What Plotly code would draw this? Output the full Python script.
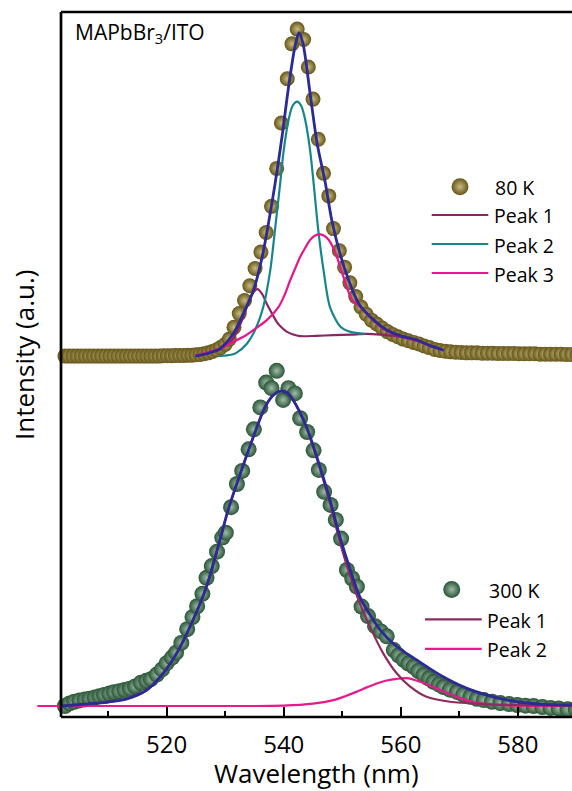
import plotly.graph_objects as go

# ---------------- data ----------------
# 80 K measured spectrum (normalised intensity, plotted with a vertical offset)
wl_80K = [502.6, 503.3, 504.0, 504.7, 505.4, 506.1, 506.8, 507.5, 508.2, 508.9,
          509.6, 510.3, 511.0, 511.7, 512.4, 513.1, 513.8, 514.5, 515.2, 515.9,
          516.6, 517.3, 518.0, 518.7, 519.4, 520.1, 520.8, 521.5, 522.2, 522.9,
          523.6, 524.3, 525.0, 525.7, 526.4, 527.1, 527.8, 528.5, 529.2,
          530.0, 530.7, 531.5, 532.4, 533.3, 534.2, 535.1, 536.1, 537.0, 537.9,
          538.8, 539.6, 540.6, 541.4, 542.3, 543.4, 544.2, 545.0, 545.9, 546.8,
          547.7, 548.5, 549.5, 550.4, 551.3, 552.3, 553.2, 554.1, 555.0, 555.9,
          556.8, 557.7, 558.6, 559.5, 560.4, 561.3, 562.2, 563.1, 564.0, 564.9,
          565.8, 566.7, 567.6, 568.5, 569.4, 570.3, 571.2, 572.1, 573.0, 573.9,
          574.8, 575.7, 576.6, 577.5, 578.4, 579.3, 580.2, 581.1, 582.0, 582.9,
          583.8, 584.7, 585.6, 586.5, 587.4, 588.3, 589.2, 590.1]
int_80K = [0.000, 0.000, 0.000, 0.000, 0.000, 0.000, 0.000, 0.000, 0.000, 0.000,
           0.000, 0.000, 0.000, 0.000, 0.000, 0.000, 0.000, 0.000, 0.000, 0.000,
           0.000, 0.000, 0.000, 0.000, 0.001, 0.001, 0.001, 0.002, 0.002, 0.002,
           0.003, 0.003, 0.004, 0.005, 0.007, 0.010, 0.014, 0.019, 0.026,
           0.036, 0.052, 0.088, 0.130, 0.170, 0.215, 0.268, 0.318, 0.378, 0.458,
           0.574, 0.713, 0.848, 0.955, 1.000, 0.968, 0.884, 0.786, 0.663, 0.559,
           0.490, 0.390, 0.322, 0.272, 0.224, 0.182, 0.150, 0.128, 0.110, 0.098,
           0.086, 0.075, 0.066, 0.059, 0.052, 0.047, 0.042, 0.037, 0.031, 0.026,
           0.020, 0.017, 0.015, 0.013, 0.012, 0.011, 0.010, 0.010, 0.010, 0.009,
           0.009, 0.009, 0.008, 0.008, 0.008, 0.008, 0.007, 0.007, 0.007, 0.007,
           0.006, 0.006, 0.006, 0.006, 0.006, 0.005, 0.005, 0.005]

# 80 K fit components
fit80_wl = [524.9, 527.0, 529.1, 531.4, 533.1, 534.8, 536.3, 537.4, 538.5, 539.7,
            540.8, 541.9, 542.6, 543.3, 544.5, 545.7, 547.1, 548.2, 549.6, 551.1,
            552.8, 555.4, 557.6, 560.0, 562.8, 565.0, 567.3]
fit80_int = [0.000, 0.008, 0.023, 0.069, 0.130, 0.200, 0.302, 0.407, 0.525, 0.670,
             0.820, 0.945, 0.989, 0.955, 0.804, 0.651, 0.530, 0.416, 0.314, 0.232,
             0.161, 0.110, 0.080, 0.062, 0.049, 0.032, 0.018]

p1_80_wl = [524.9, 527.4, 529.1, 531.4, 533.1, 534.3, 535.5, 536.3, 537.1, 538.0,
            538.8, 539.6, 540.5, 541.6, 542.8, 545.5, 548.5, 551.5, 554.2, 556.5,
            558.9, 561.0, 563.3, 565.3, 567.3]
p1_80_int = [0.000, 0.010, 0.020, 0.055, 0.120, 0.180, 0.205, 0.190, 0.160, 0.130,
             0.105, 0.088, 0.075, 0.066, 0.061, 0.062, 0.064, 0.066, 0.068, 0.066,
             0.062, 0.055, 0.044, 0.031, 0.018]

p2_80_wl = [529.0, 531.0, 531.9, 533.7, 535.1, 536.5, 537.7, 538.5, 539.4, 540.0,
            540.8, 541.5, 542.3, 543.0, 543.7, 544.5, 545.1, 545.9, 546.8, 547.9,
            549.7, 551.4, 553.9]
p2_80_int = [0.000, 0.004, 0.010, 0.038, 0.080, 0.150, 0.263, 0.385, 0.530, 0.630,
             0.720, 0.765, 0.778, 0.765, 0.720, 0.630, 0.530, 0.385, 0.263, 0.150,
             0.090, 0.074, 0.068]

p3_80_wl = [525.0, 527.0, 529.1, 531.0, 533.1, 535.0, 537.1, 539.1, 540.1, 541.1,
            542.0, 542.8, 543.7, 544.5, 545.3, 546.1, 546.9, 547.7, 548.4, 549.1,
            550.2, 551.7, 552.8, 555.4, 557.6, 560.0, 562.8, 565.0, 567.3]
p3_80_int = [0.003, 0.012, 0.023, 0.040, 0.059, 0.082, 0.110, 0.150, 0.185, 0.232,
             0.270, 0.303, 0.332, 0.355, 0.368, 0.372, 0.368, 0.355, 0.333, 0.303,
             0.242, 0.171, 0.155, 0.107, 0.077, 0.060, 0.047, 0.031, 0.018]

# 300 K measured spectrum
wl_300K = [502.6, 503.4, 504.2, 505.1, 506.0, 506.8, 507.7, 508.5, 509.3, 510.2,
           511.0, 511.9, 512.8, 513.7, 514.6, 515.6, 516.5, 517.3, 518.3, 519.2,
           520.0, 520.9, 521.6, 522.5, 523.5, 524.4, 525.2, 526.1, 526.8, 527.7,
           528.6, 529.5, 530.1, 531.0, 532.0, 532.9, 534.0, 534.9, 536.0, 537.0,
           537.9, 538.8, 539.9, 540.8, 541.9, 542.8, 544.0, 545.1, 546.0, 546.9,
           548.0, 548.9, 549.8, 550.8, 551.7, 552.5, 553.3, 554.4, 555.6, 556.6,
           557.6, 558.8, 559.6, 560.5, 561.3, 562.2, 563.0, 563.9, 564.8, 565.6,
           566.5, 567.3, 568.4, 569.6, 570.7, 571.9, 573.0, 574.2, 575.6, 577.0,
           578.5, 579.9, 581.3, 582.7, 584.2, 585.6, 587.0, 588.5, 589.9]
int_300K = [0.000, 0.008, 0.013, 0.017, 0.020, 0.022, 0.026, 0.030, 0.034, 0.038,
            0.042, 0.045, 0.049, 0.053, 0.060, 0.071, 0.077, 0.082, 0.096, 0.112,
            0.131, 0.148, 0.163, 0.193, 0.235, 0.272, 0.305, 0.343, 0.392, 0.428,
            0.472, 0.515, 0.530, 0.608, 0.679, 0.719, 0.785, 0.846, 0.913, 0.989,
            0.972, 1.025, 0.936, 0.972, 0.956, 0.880, 0.838, 0.782, 0.722, 0.655,
            0.615, 0.569, 0.512, 0.416, 0.390, 0.365, 0.304, 0.275, 0.244, 0.228,
            0.213, 0.171, 0.155, 0.141, 0.130, 0.120, 0.107, 0.095, 0.084, 0.074,
            0.066, 0.058, 0.050, 0.043, 0.035, 0.028, 0.022, 0.018, 0.013, 0.009,
            0.006, 0.003, 0.001, 0.000, -0.003, -0.006, -0.008, -0.010, -0.010]

# 300 K fit components
fit300_wl = [502.1, 505.0, 507.5, 510.0, 513.2, 516.6, 518.9, 521.7, 524.5, 526.8,
             529.1, 530.5, 532.2, 534.6, 536.8, 538.2, 539.4, 540.6, 541.6, 543.9,
             546.2, 547.9, 549.6, 551.3, 553.0, 556.5, 559.3, 562.7, 566.7, 571.3,
             575.8, 579.8, 583.8, 589.3]
fit300_int = [0.000, 0.004, 0.008, 0.012, 0.022, 0.049, 0.089, 0.161, 0.263, 0.365,
              0.508, 0.600, 0.691, 0.813, 0.914, 0.950, 0.963, 0.958, 0.936, 0.853,
              0.731, 0.630, 0.517, 0.420, 0.334, 0.232, 0.182, 0.141, 0.095, 0.054,
              0.028, 0.013, 0.006, 0.003]

p1_300_wl = [502.1, 505.0, 507.5, 510.0, 513.2, 516.6, 518.9, 521.7, 524.5, 526.8,
             529.1, 530.5, 532.2, 534.6, 536.8, 538.2, 539.4, 540.6, 541.6, 543.9,
             546.2, 547.9, 549.6, 551.3, 553.0, 555.0, 557.0, 559.3, 561.6, 564.4,
             568.4, 574.1, 579.8, 589.3]
p1_300_int = [0.000, 0.004, 0.008, 0.012, 0.022, 0.049, 0.089, 0.161, 0.263, 0.365,
              0.508, 0.600, 0.691, 0.813, 0.914, 0.950, 0.963, 0.958, 0.936, 0.850,
              0.725, 0.620, 0.502, 0.400, 0.314, 0.232, 0.161, 0.100, 0.059, 0.028,
              0.013, 0.006, 0.003, 0.000]

p2_300_wl = [497.9, 510.0, 520.0, 530.0, 540.0, 545.0, 548.5, 550.5, 552.5, 554.2,
             555.9, 557.6, 559.3, 561.0, 563.3, 565.0, 566.7, 568.4, 570.1, 571.8,
             573.5, 576.9, 580.0, 585.0, 589.3]
p2_300_int = [0.000, 0.000, 0.000, 0.000, 0.001, 0.007, 0.018, 0.030, 0.044, 0.057,
              0.069, 0.078, 0.083, 0.085, 0.074, 0.062, 0.049, 0.036, 0.024, 0.015,
              0.008, 0.003, 0.001, 0.000, 0.000]

OFFSET_80K = 1.070
X_TICKS = [520, 540, 560, 580]
X_MINOR = [510, 530, 550, 570]

# ---------------- styles ----------------
FONT = "Open Sans"
GOLD_EDGE, GOLD_CENTER = "#655519", "#c9bc80"
GREEN_EDGE, GREEN_CENTER = "#2a5536", "#9ebca7"
NAVY = "#2c2a94"
C80 = {"p1": "#8b2566", "p2": "#15868c", "p3": "#e6168c"}
C300 = {"p1": "#8e2c5e", "p2": "#e8198b"}


def off(vals, d):
    return [v + d for v in vals]


fig = go.Figure()

# 80 K
fig.add_trace(go.Scatter(x=wl_80K, y=off(int_80K, OFFSET_80K), mode="markers",
                         marker=dict(size=15, color=GOLD_EDGE, line=dict(width=0),
                                     gradient=dict(type="radial", color=GOLD_CENTER)),
                         showlegend=False))
for wl, iv, c in [(p1_80_wl, p1_80_int, C80["p1"]), (p2_80_wl, p2_80_int, C80["p2"]),
                  (p3_80_wl, p3_80_int, C80["p3"])]:
    fig.add_trace(go.Scatter(x=wl, y=off(iv, OFFSET_80K), mode="lines",
                             line=dict(color=c, width=2.2, shape="spline", smoothing=0.8),
                             showlegend=False))
fig.add_trace(go.Scatter(x=fit80_wl, y=off(fit80_int, OFFSET_80K), mode="lines",
                         line=dict(color=NAVY, width=2.8, shape="spline", smoothing=0.8),
                         showlegend=False))

# 300 K
fig.add_trace(go.Scatter(x=wl_300K, y=int_300K, mode="markers",
                         marker=dict(size=16, color=GREEN_EDGE, line=dict(width=0),
                                     gradient=dict(type="radial", color=GREEN_CENTER)),
                         showlegend=False))
fig.add_trace(go.Scatter(x=p2_300_wl, y=p2_300_int, mode="lines",
                         line=dict(color=C300["p2"], width=2.2, shape="spline", smoothing=0.8),
                         showlegend=False))
fig.add_trace(go.Scatter(x=p1_300_wl, y=p1_300_int, mode="lines",
                         line=dict(color=C300["p1"], width=2.2, shape="spline", smoothing=0.8),
                         showlegend=False))
fig.add_trace(go.Scatter(x=fit300_wl, y=fit300_int, mode="lines",
                         line=dict(color=NAVY, width=2.8, shape="spline", smoothing=0.8),
                         showlegend=False))

# ---------------- hand-made legends (overlay axes in plot-fraction units) ----------------
W, H = 572, 791
ML, MR, MT, MB = 30, 0, 12, 74
PW, PH = W - ML - MR, H - MT - MB


def px(x):
    return (x - ML) / PW


def py(y):
    return (H - MB - y) / PH


fig.add_trace(go.Scatter(x=[px(460)], y=[py(186.7)], xaxis="x2", yaxis="y2", mode="markers",
                         marker=dict(size=17, color=GOLD_EDGE, line=dict(width=0),
                                     gradient=dict(type="radial", color=GOLD_CENTER)),
                         showlegend=False, hoverinfo="skip"))
fig.add_trace(go.Scatter(x=[px(451.7)], y=[py(589.5)], xaxis="x2", yaxis="y2", mode="markers",
                         marker=dict(size=17, color=GREEN_EDGE, line=dict(width=0),
                                     gradient=dict(type="radial", color=GREEN_CENTER)),
                         showlegend=False, hoverinfo="skip"))

shapes = []
annotations = []
LEG_FONT = dict(family=FONT, size=19.5, color="black")
# 80 K legend
annotations.append(dict(x=px(493.3), y=py(187.5), xref="paper", yref="paper", text="80 K",
                        showarrow=False, xanchor="left", yanchor="middle", font=LEG_FONT))
for lab, c, yy in [("Peak 1", C80["p1"], 215), ("Peak 2", C80["p2"], 244), ("Peak 3", C80["p3"], 273)]:
    shapes.append(dict(type="line", xref="paper", yref="paper", x0=px(431.7), x1=px(488.3),
                       y0=py(yy), y1=py(yy), line=dict(color=c, width=2.2)))
    annotations.append(dict(x=px(492.0), y=py(yy + 1), xref="paper", yref="paper", text=lab,
                            showarrow=False, xanchor="left", yanchor="middle", font=LEG_FONT))
# 300 K legend
annotations.append(dict(x=px(486.5), y=py(590.5), xref="paper", yref="paper", text="300 K",
                        showarrow=False, xanchor="left", yanchor="middle", font=LEG_FONT))
for lab, c, yy in [("Peak 1", C300["p1"], 619.3), ("Peak 2", C300["p2"], 648.8)]:
    shapes.append(dict(type="line", xref="paper", yref="paper", x0=px(425), x1=px(481.7),
                       y0=py(yy), y1=py(yy), line=dict(color=c, width=2.2)))
    annotations.append(dict(x=px(485.3), y=py(yy + 1), xref="paper", yref="paper", text=lab,
                            showarrow=False, xanchor="left", yanchor="middle", font=LEG_FONT))

# frame (left, bottom, top) starting at the 502 nm axis position
AX_L = px(61)
for (x0, y0, x1, y1) in [(AX_L, 0, AX_L, 1), (AX_L, 0, 1, 0), (AX_L, 1, 1, 1)]:
    shapes.append(dict(type="line", xref="paper", yref="paper", x0=x0, y0=y0, x1=x1, y1=y1,
                       line=dict(color="black", width=2.7)))

# sample label and axis titles
annotations.append(dict(x=px(73), y=py(33.5), xref="paper", yref="paper",
                        text="MAPbBr<sub>3</sub>/ITO", showarrow=False, xanchor="left",
                        yanchor="middle", font=dict(family=FONT, size=21, color="black")))
annotations.append(dict(x=px(316.7), y=py(773), xref="paper", yref="paper",
                        text="Wavelength (nm)", showarrow=False, xanchor="center",
                        yanchor="middle", font=dict(family=FONT, size=26, color="black")))
annotations.append(dict(x=px(24), y=py(355), xref="paper", yref="paper",
                        text="Intensity (a.u.)", showarrow=False, xanchor="center",
                        yanchor="middle", textangle=-90,
                        font=dict(family=FONT, size=26, color="black")))

x_lo = 520 - (166.7 - ML) / 5.852
x_hi = 520 + (W - MR - 166.7) / 5.852
y_lo = -(H - MB - 706) / 327
y_hi = (706 - MT) / 327

fig.update_layout(
    width=W, height=H, margin=dict(l=ML, r=MR, t=MT, b=MB),
    paper_bgcolor="white", plot_bgcolor="white",
    font=dict(family=FONT, color="black"),
    xaxis=dict(range=[x_lo, x_hi], showline=False, showgrid=False, zeroline=False,
               ticks="inside", ticklen=10, tickwidth=2, tickcolor="black",
               tickvals=X_TICKS, ticktext=[str(v) for v in X_TICKS],
               ticklabelstandoff=11,
               tickfont=dict(family=FONT, size=24, color="black"),
               minor=dict(tickvals=X_MINOR, ticks="inside", ticklen=6, tickwidth=2,
                          tickcolor="black", showgrid=False)),
    yaxis=dict(range=[y_lo, y_hi], visible=False),
    xaxis2=dict(range=[0, 1], overlaying="x", visible=False),
    yaxis2=dict(range=[0, 1], overlaying="y", visible=False),
    shapes=shapes, annotations=annotations, showlegend=False,
)

fig.write_html("out.html")
